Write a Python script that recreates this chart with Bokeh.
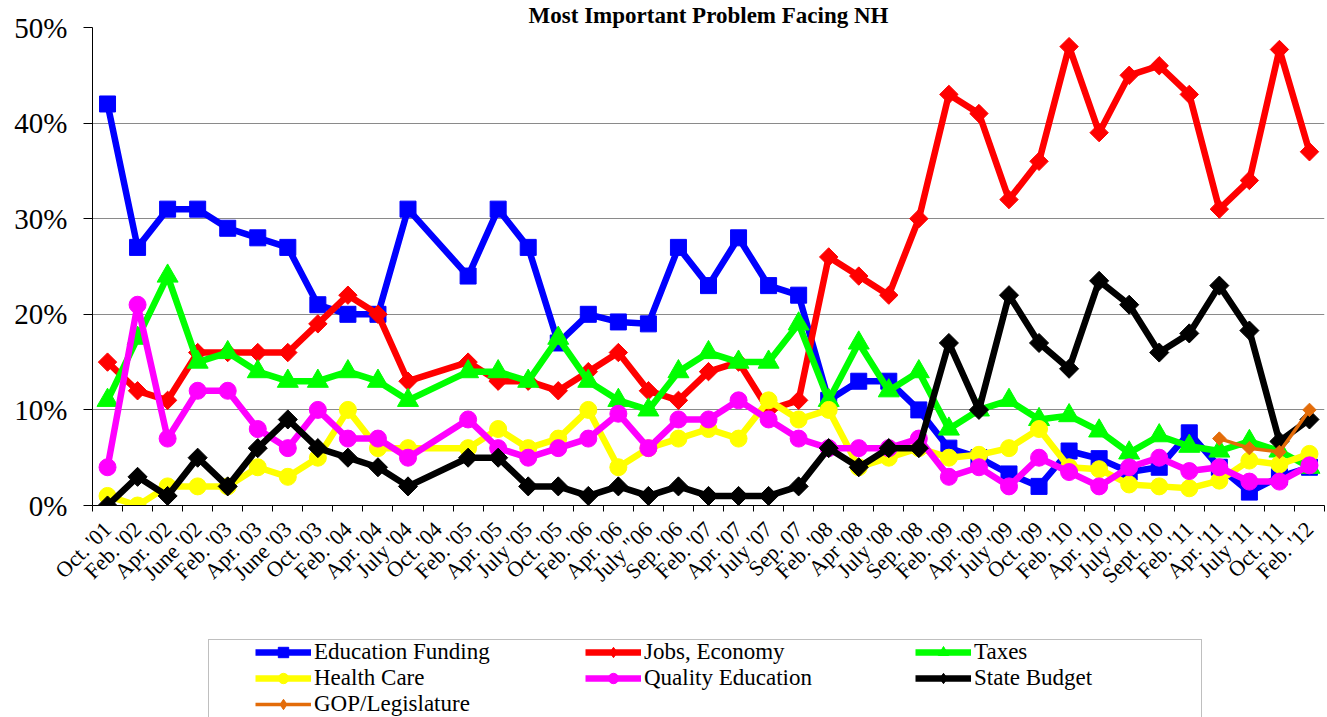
import math
from bokeh.plotting import figure
from bokeh.layouts import column
from bokeh.models import (Range1d, FixedTicker, PrintfTickFormatter, Legend,
                          LegendItem, ColumnDataSource)
from bokeh.embed import file_html
from bokeh.resources import INLINE

# ---------------- data ----------------
categories = ["Oct. '01", "Feb. '02", "Apr. '02", "June '02", "Feb. '03", "Apr. '03",
              "June '03", "Oct. '03", "Feb. '04", "Apr. '04", "July '04", "Oct. '04",
              "Feb. '05", "Apr. '05", "July '05", "Oct. '05", "Feb. '06", "Apr. '06",
              "July \"06", "Sep. '06", "Feb. '07", "Apr. '07", "July '07", "Sep. 07",
              "Feb. '08", "Apr '08", "July '08", "Sep. '08", "Feb. '09", "Apr. '09",
              "July '09", "Oct. '09", "Feb. '10", "Apr. '10", "July '10", "Sept. '10",
              "Feb. '11", "Apr. '11", "July '11", "Oct. '11", "Feb. '12"]

education_funding = [42, 27, 31, 31, 29, 28, 27, 21, 20, 20, 31, None,
                     24, 31, 27, 17, 20, 19.2, 19, 27, 23, 28, 23, 22, 11, 13, 13, 10,
                     6, 5, 3.3, 2, 5.7, 4.9, 3.5, 4, 7.6, 4, 1.4, 3, 4]
jobs_economy = [15, 12, 11, 16, 16, 16, 16, 19, 22, 20, 13, None,
                15, 13, 13, 12, 14, 16, 12, 11, 14, 15, 10, 11, 26, 24, 22, 30,
                43, 41, 32, 36, 48, 39, 45, 46, 43, 31, 34, 47.7, 37]
taxes = [11, 17.5, 24, 15, 16, 14, 13, 13, 14, 13, 11, None,
         14, 14, 13, 17.5, 13, 11, 10, 14, 16, 15, 15, 19, 11, 17, 12, 14,
         8, 10, 11, 9, 9.4, 7.8, 5.5, 7.3, 6.2, 5.7, 6.7, 5.7, 4]
health_care = [1, 0, 2, 2, 2, 4, 3, 5, 10, 6, 6, None,
               6, 8, 6, 7, 10, 4, 6, 7, 8, 7, 11, 9, 10, 4, 5, 6,
               5, 5.3, 6, 8, 4, 3.8, 2.2, 2, 1.8, 2.6, 4.7, 4.3, 5.4]
quality_education = [4, 21, 7, 12, 12, 8, 6, 10, 7, 7, 5, None,
                     9, 6, 5, 6, 7, 9.6, 6, 9, 9, 11, 9, 7, 6, 6, 6, 7,
                     3, 4, 2, 5, 3.5, 2, 4, 5, 3.6, 4, 2.5, 2.5, 4.2]
state_budget = [0, 3, 1, 5, 2, 6, 9, 6, 5, 4, 2, None,
                5, 5, 2, 2, 1, 2, 1, 2, 1, 1, 1, 2, 6, 4, 6, 6,
                17, 10, 22, 17, 14.3, 23.5, 21, 16, 18, 23, 18.3, 6.7, 9]
gop_legislature = [None] * 37 + [7, 6, 5.6, 10]

y_ticks = [0, 10, 20, 30, 40, 50]
title_text = "Most Important Problem Facing NH"

# ---------------- main figure ----------------
n = len(categories)
x_centers = [i + 0.5 for i in range(n)]
FONT = "Liberation Serif"

p = figure(width=1327, height=636, output_backend="svg", toolbar_location=None,
           x_range=Range1d(0, n), y_range=Range1d(0, 50),
           min_border_left=92, min_border_right=3, min_border_top=23,
           min_border_bottom=131)
p.outline_line_color = None
p.background_fill_color = "white"
p.border_fill_color = "white"

p.title.text = title_text
p.title.align = "center"
p.title.offset = -50
p.title.standoff = 0
p.title.text_font = FONT
p.title.text_font_size = "23px"
p.title.text_font_style = "bold"
p.title.text_color = "black"

xa = p.xaxis[0]
xa.ticker = FixedTicker(ticks=x_centers, minor_ticks=list(range(n + 1)))
xa.major_label_overrides = {x: lab for x, lab in zip(x_centers, categories)}
xa.major_tick_line_color = None
xa.major_tick_out = 6
xa.major_tick_in = 0
xa.minor_tick_line_color = "black"
xa.minor_tick_out = 6
xa.minor_tick_in = 0
xa.axis_line_color = "black"
xa.major_label_orientation = math.pi / 4
xa.major_label_text_font = FONT
xa.major_label_text_font_size = "22px"
xa.major_label_text_color = "black"
xa.major_label_standoff = 14

ya = p.yaxis[0]
ya.ticker = FixedTicker(ticks=y_ticks)
ya.formatter = PrintfTickFormatter(format="%d%%")
ya.major_tick_out = 9
ya.major_tick_in = 0
ya.major_tick_line_color = "black"
ya.minor_tick_line_color = None
ya.axis_line_color = "black"
ya.major_label_standoff = 16
ya.major_label_text_font = FONT
ya.major_label_text_font_size = "29px"
ya.major_label_text_color = "black"

p.xgrid.visible = False
p.ygrid.ticker = FixedTicker(ticks=y_ticks)
p.ygrid.grid_line_color = "#8A8A8A"
p.ygrid.grid_line_width = 1

# name, values, colour, marker, size, angle, line width, legend marker
series = [
    ("Education Funding", education_funding, "#0000FF", "square", 16, 0.0, 6.5, "square"),
    ("Jobs, Economy", jobs_economy, "#FF0000", "square", 13, math.pi / 4, 6.5, "diamond"),
    ("Taxes", taxes, "#00FF00", "triangle", 21, 0.0, 6.5, "triangle"),
    ("Health Care", health_care, "#FFFF00", "circle", 17, 0.0, 6.5, "circle"),
    ("Quality Education", quality_education, "#FF00FF", "circle", 17, 0.0, 6.5, "circle"),
    ("State Budget", state_budget, "#000000", "square", 13.5, math.pi / 4, 6.5, "diamond"),
    ("GOP/Legislature", gop_legislature, "#E36C09", "square", 9.5, math.pi / 4, 3.5, "diamond"),
]

sources = []
for name, vals, color, marker, size, angle, lw, lmarker in series:
    xs = [x for x, v in zip(x_centers, vals) if v is not None]
    ys = [v for v in vals if v is not None]
    src = ColumnDataSource(dict(x=xs, y=ys))
    sources.append(src)
    p.line("x", "y", source=src, line_color=color, line_width=lw, line_join="round")
    p.scatter("x", "y", source=src, marker=marker, size=size, angle=angle,
              fill_color=color, line_color=color)

# ---------------- legend strip (separate figure so the legend is not clipped) ----------------
# Its ranges are far from the data, so the proxy renderers draw nothing in the strip itself.
lg = figure(width=1327, height=81, output_backend="svg", toolbar_location=None,
            x_range=Range1d(1000, 1001), y_range=Range1d(1000, 1001),
            x_axis_type=None, y_axis_type=None,
            min_border_left=0, min_border_right=0, min_border_top=0,
            min_border_bottom=0)
lg.outline_line_color = None
lg.grid.visible = False
lg.background_fill_color = "white"
lg.border_fill_color = "white"

items = []
for (name, vals, color, marker, size, angle, lw, lmarker), src in zip(series, sources):
    ln = lg.line("x", "y", source=src, line_color=color, line_width=lw)
    sc = lg.scatter("x", "y", source=src, marker=lmarker,
                    fill_color=color, line_color=color)
    items.append(LegendItem(label=name, renderers=[ln, sc]))

dummy = lg.line("x", "y", source=sources[0], line_alpha=0)
box = Legend(items=[LegendItem(label=" ", renderers=[dummy])],
             location=(116, -14), padding=0, margin=0, spacing=0,
             glyph_width=1, glyph_height=90, label_width=991, label_height=90,
             label_standoff=0, label_text_font_size="2px",
             border_line_color="#808080", border_line_width=1,
             background_fill_color="white", background_fill_alpha=1)
lg.add_layout(box, "center")

leg = Legend(items=items, orientation="horizontal", ncols=3,
             location=(163, 0), padding=0, margin=0, spacing=0,
             glyph_width=56, glyph_height=26, label_height=26, label_width=271,
             label_standoff=3, label_text_font=FONT, label_text_font_size="23px",
             label_text_color="black",
             border_line_color=None, background_fill_alpha=0)
lg.add_layout(leg, "center")

layout = column(p, lg, spacing=0)
open("out.html", "w").write(file_html(layout, INLINE))
